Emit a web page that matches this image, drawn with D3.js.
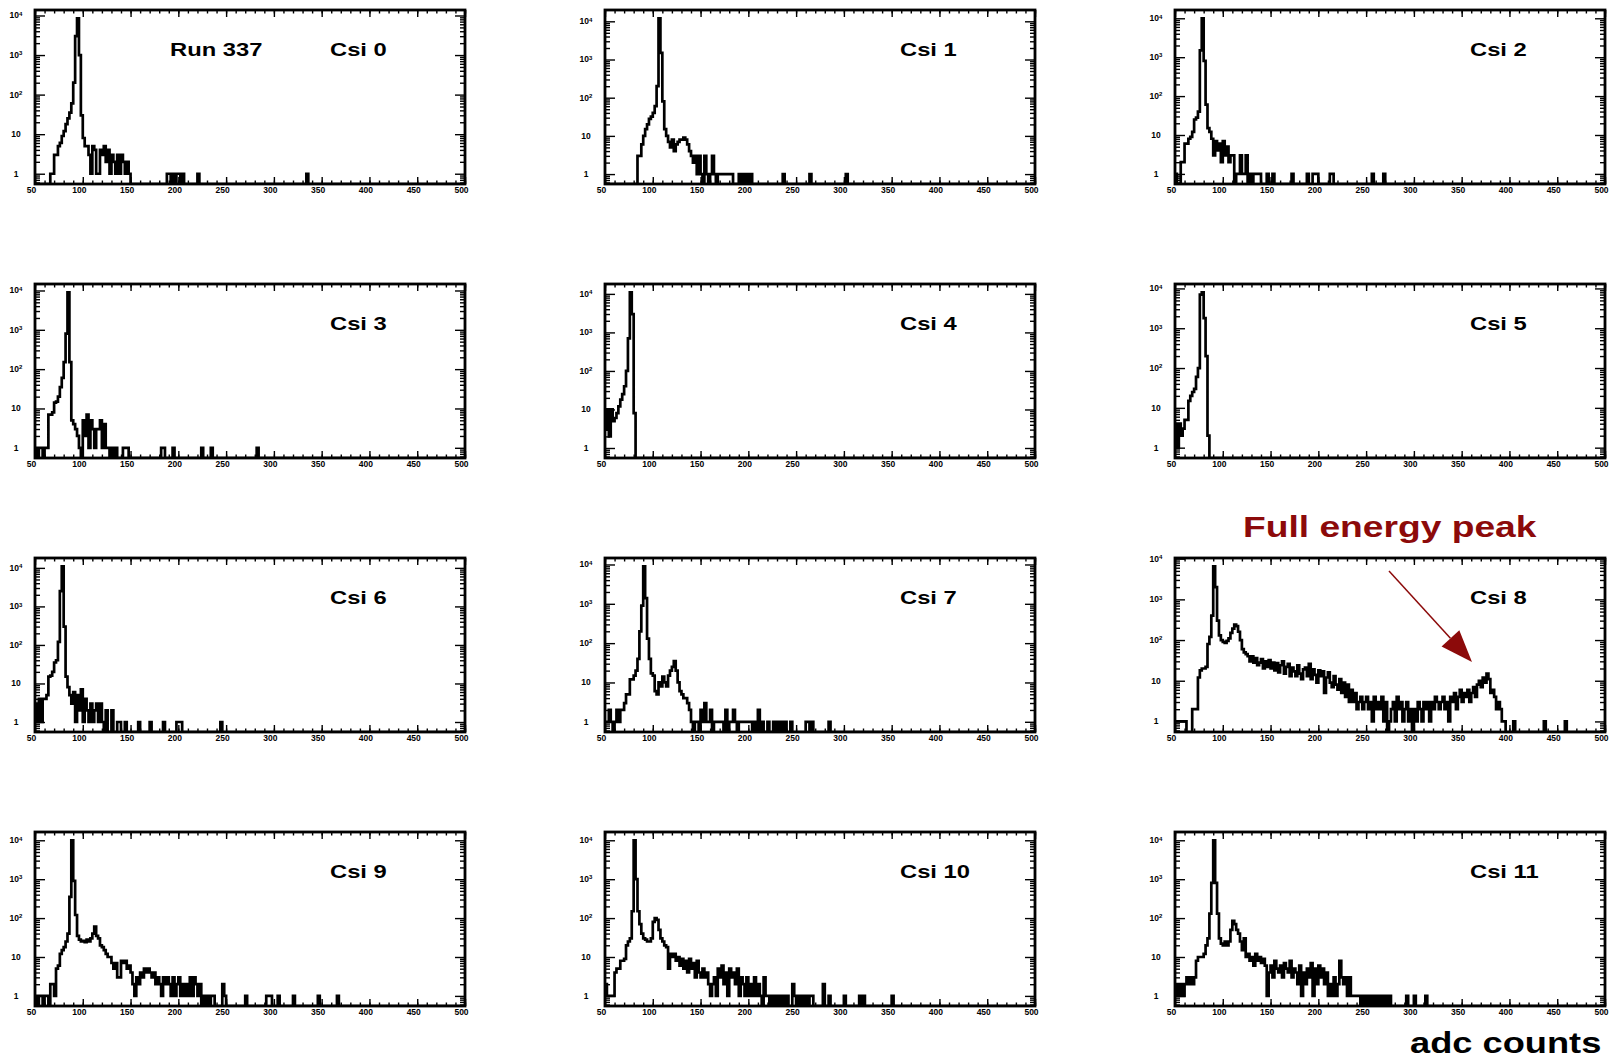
<!DOCTYPE html>
<html lang="en">
<head>
<meta charset="utf-8">
<title>Run 337 - CsI adc spectra</title>
<script src="https://cdn.jsdelivr.net/npm/d3@7"></script>
<style>
  body { margin: 0; background: #fff; }
  svg text { font-family: "Liberation Sans", Arial, Helvetica, sans-serif; }
</style>
</head>
<body>
<script>
// ---- data: [bin low edge (adc), counts] for non-empty bins, bin width 2 ----
var binWidth = 2;
var xTickValues = [50, 100, 150, 200, 250, 300, 350, 400, 450, 500];
var yTickValues = [1, 10, 100, 1000, 10000];
var detectorNames = ["Csi 0", "Csi 1", "Csi 2", "Csi 3", "Csi 4", "Csi 5",
                     "Csi 6", "Csi 7", "Csi 8", "Csi 9", "Csi 10", "Csi 11"];
var runLabel = "Run 337";

var csi0 = [[66,1],[68,1],[70,3],[72,3],[74,5],[76,6],[78,9],[80,12],[82,18],[84,25],[86,35],[88,60],
  [90,200],[92,3000],[94,8500],[96,1000],[98,30],[100,8],[102,5],[104,5],[106,3],[108,1],[110,5],[112,4],
  [114,1],[116,1],[118,4],[120,3],[122,5],[124,2],[126,4],[128,1],[130,3],[132,2],[134,1],[136,3],[138,1],
  [140,3],[142,2],[144,1],[146,2],[148,1],[188,1],[190,1],[194,1],[198,1],[200,1],[204,1],[220,1],[334,1]];

var csi1 = [[84,3],[86,3],[88,6],[90,10],[92,15],[94,20],[96,28],[98,32],[100,40],[102,60],[104,200],
  [106,12000],[108,1500],[110,80],[112,15],[114,10],[116,7],[118,5],[120,8],[122,4],[124,6],[126,7],
  [128,8],[130,8],[132,9],[134,8],[136,6],[138,4],[140,3],[142,2],[144,3],[146,1],[148,3],[150,1],
  [154,3],[156,1],[160,1],[162,3],[164,1],[168,1],[170,1],[172,1],[174,1],[176,1],[178,1],[180,1],
  [182,1],[190,1],[194,1],[198,1],[202,1],[236,1],[264,1],[302,1]];

var csi2 = [[50,1],[56,2],[58,2],[60,6],[62,6],[64,8],[66,9],[68,12],[70,25],[72,28],[74,40],[76,1500],
  [78,10000],[80,800],[82,60],[84,15],[86,12],[88,8],[90,3],[92,7],[94,4],[96,6],[98,2],[100,7],[102,3],
  [104,5],[106,2],[108,3],[110,3],[114,1],[116,1],[118,3],[120,1],[122,1],[124,3],[128,1],[132,1],
  [134,1],[136,1],[138,1],[146,1],[152,1],[172,1],[188,1],[194,1],[196,1],[198,1],[212,1],[214,1],
  [256,1],[268,1]];

var csi3 = [[50,1],[54,1],[56,1],[60,1],[62,1],[64,7],[66,7],[68,8],[70,14],[72,15],[74,20],[76,35],
  [78,60],[80,150],[82,800],[84,9000],[86,150],[88,5],[90,4],[92,3],[94,2],[96,1],[100,5],[102,2],
  [104,7],[106,1],[108,5],[110,3],[112,1],[114,3],[116,3],[118,5],[120,1],[122,4],[124,1],[126,1],
  [130,1],[134,1],[142,1],[144,1],[146,1],[182,1],[184,1],[194,1],[224,1],[234,1],[282,1]];

var csi4 = [[50,3],[52,10],[54,2],[56,10],[58,5],[60,6],[62,8],[64,12],[66,18],[68,25],[70,40],
  [72,100],[74,700],[76,11000],[78,3000],[80,8]];

var csi5 = [[50,4],[52,1],[54,4],[56,2],[58,3],[60,5],[62,5],[64,15],[66,20],[68,25],[70,30],[72,60],
  [74,100],[76,7000],[78,8000],[80,1800],[82,200],[84,2]];

var csi6 = [[50,3],[52,1],[54,4],[56,1],[58,4],[60,4],[62,5],[64,15],[66,16],[68,20],[70,35],[72,40],
  [74,120],[76,2500],[78,11000],[80,300],[82,15],[84,8],[86,5],[88,3],[90,6],[92,1],[94,5],[96,2],
  [98,7],[100,1],[102,4],[104,2],[106,1],[108,3],[110,1],[112,2],[114,3],[116,1],[118,3],[120,1],
  [124,2],[130,2],[136,1],[138,1],[144,1],[158,1],[170,1],[184,1],[198,1],[200,1],[202,1],[244,1]];

var csi7 = [[50,1],[52,1],[54,2],[56,1],[60,1],[62,2],[64,1],[66,2],[68,2],[70,3],[72,5],[74,5],
  [76,12],[78,12],[80,15],[82,20],[84,40],[86,200],[88,900],[90,9000],[92,1400],[94,130],[96,40],
  [98,17],[100,15],[102,6],[104,5],[106,10],[108,8],[110,14],[112,10],[114,8],[116,15],[118,20],
  [120,25],[122,35],[124,20],[126,10],[128,6],[130,5],[132,4],[134,4],[136,3],[138,2],[140,1],[144,1],
  [146,1],[150,2],[152,1],[154,3],[156,1],[158,1],[160,2],[164,1],[166,1],[168,1],[170,1],[172,1],
  [176,2],[180,1],[182,1],[184,2],[186,1],[190,1],[192,1],[194,1],[196,1],[198,1],[200,1],[202,1],
  [206,1],[210,2],[214,1],[220,1],[226,1],[230,1],[234,1],[238,1],[244,1],[260,1],[262,1],[266,1],
  [284,1]];

var csi8 = [[50,1],[52,1],[54,1],[56,1],[58,1],[60,1],[68,2],[70,2],[72,2],[74,12],[76,18],[78,20],
  [80,20],[82,22],[84,80],[86,120],[88,400],[90,6500],[92,2000],[94,300],[96,130],[98,100],[100,90],
  [102,85],[104,95],[106,110],[108,150],[110,190],[112,240],[114,220],[116,160],[118,100],[120,60],
  [122,50],[124,45],[126,40],[128,30],[130,40],[132,28],[134,36],[136,24],[138,28],[140,34],[142,20],
  [144,30],[146,22],[148,32],[150,20],[152,28],[154,18],[156,27],[158,16],[160,24],[162,30],[164,15],
  [166,22],[168,26],[170,13],[172,21],[174,17],[176,13],[178,24],[180,15],[182,11],[184,19],[186,21],
  [188,13],[190,26],[192,11],[194,19],[196,14],[198,9],[200,18],[202,13],[204,17],[206,5],[208,12],
  [210,16],[212,9],[214,7],[216,13],[218,8],[220,6],[222,11],[224,5],[226,9],[228,4],[230,8],[232,3],
  [234,6],[236,3],[238,5],[240,2],[242,3],[244,4],[246,2],[248,3],[250,4],[252,2],[254,3],[256,1],
  [258,4],[260,2],[262,3],[264,2],[266,4],[268,1],[270,3],[274,1],[276,2],[278,3],[280,1],[282,4],
  [284,2],[286,3],[288,1],[290,2],[292,3],[294,1],[296,2],[300,2],[302,1],[304,3],[306,2],[308,1],
  [310,3],[312,2],[314,3],[316,1],[318,3],[320,2],[322,4],[324,3],[326,2],[328,3],[330,4],[332,2],
  [334,3],[336,1],[338,4],[340,3],[342,5],[344,2],[346,4],[348,6],[350,3],[352,5],[354,4],[356,6],
  [358,3],[360,5],[362,7],[364,4],[366,8],[368,10],[370,7],[372,12],[374,9],[376,15],[378,11],[380,5],
  [382,6],[384,4],[386,2],[388,3],[390,2],[392,1],[394,1],[404,1],[436,1],[458,1]];

var csi9 = [[50,1],[54,1],[56,1],[60,1],[62,1],[66,2],[68,2],[70,1],[72,5],[74,6],[76,12],[78,15],
  [80,18],[82,25],[84,40],[86,350],[88,10000],[90,900],[92,120],[94,35],[96,28],[98,25],[100,26],
  [102,24],[104,28],[106,25],[108,30],[110,40],[112,60],[114,35],[116,30],[118,20],[120,18],[122,15],
  [124,12],[126,10],[128,10],[130,7],[132,5],[134,7],[136,3],[138,3],[140,8],[142,7],[144,8],[146,5],
  [148,6],[150,4],[152,2],[154,1],[156,3],[158,2],[160,4],[162,3],[164,5],[166,4],[168,5],[170,4],
  [172,3],[174,4],[176,2],[178,3],[180,2],[182,1],[184,3],[186,2],[188,3],[190,2],[192,1],[194,3],
  [196,1],[198,2],[200,3],[202,1],[204,2],[206,1],[208,2],[210,1],[212,3],[214,1],[216,3],[218,2],
  [220,1],[222,2],[226,1],[230,1],[234,1],[236,1],[246,2],[248,1],[270,1],[292,1],[294,1],[296,1],
  [304,1],[320,1],[346,1],[366,1]];

var csi10 = [[50,2],[52,1],[54,1],[56,1],[58,1],[60,4],[62,5],[64,5],[66,8],[68,8],[70,9],[72,20],
  [74,25],[76,30],[78,150],[80,10000],[82,1000],[84,150],[86,70],[88,40],[90,30],[92,28],[94,25],
  [96,25],[98,30],[100,80],[102,100],[104,90],[106,50],[108,30],[110,25],[112,20],[114,18],[116,5],
  [118,12],[120,10],[122,12],[124,8],[126,10],[128,6],[130,9],[132,5],[134,8],[136,4],[138,9],[140,5],
  [142,7],[144,3],[146,8],[148,4],[150,3],[152,5],[154,3],[156,4],[158,2],[160,1],[162,2],[164,3],
  [166,1],[168,5],[170,3],[172,6],[174,2],[176,4],[178,1],[180,5],[182,3],[184,4],[186,2],[188,5],
  [190,1],[192,3],[194,2],[196,1],[198,3],[200,1],[202,2],[204,1],[206,3],[208,1],[210,2],[212,1],
  [216,3],[218,1],[220,1],[224,1],[228,1],[232,1],[236,1],[240,1],[246,2],[248,1],[252,1],[256,1],
  [260,1],[264,1],[266,1],[278,2],[284,1],[300,1],[316,1],[320,1],[350,1]];

var csi11 = [[50,1],[52,2],[54,1],[56,2],[58,1],[60,2],[62,3],[64,2],[66,3],[68,2],[70,3],[72,8],
  [74,10],[76,10],[78,10],[80,12],[82,20],[84,30],[86,130],[88,800],[90,10000],[92,800],[94,130],
  [96,30],[98,22],[100,20],[102,25],[104,20],[106,25],[108,50],[110,85],[112,70],[114,50],[116,40],
  [118,25],[120,15],[122,30],[124,10],[126,12],[128,8],[130,10],[132,6],[134,12],[136,8],[138,10],
  [140,7],[142,9],[144,6],[146,1],[148,4],[150,6],[152,3],[154,8],[156,5],[158,4],[160,6],[162,3],
  [164,7],[166,5],[168,4],[170,8],[172,3],[174,5],[176,4],[178,2],[180,6],[182,1],[184,4],[186,2],
  [188,5],[190,3],[192,7],[194,1],[196,5],[198,2],[200,6],[202,3],[204,5],[206,2],[208,4],[210,1],
  [212,2],[214,1],[216,3],[218,1],[220,2],[222,8],[224,3],[226,2],[228,3],[230,1],[232,3],[234,1],
  [236,1],[238,1],[240,1],[242,1],[246,1],[250,1],[254,1],[258,1],[262,1],[266,1],[270,1],[274,1],
  [292,1],[300,1],[312,1]];

var spectra = [csi0, csi1, csi2, csi3, csi4, csi5, csi6, csi7, csi8, csi9, csi10, csi11];

// ---- layout ----
var W = 1611, H = 1058;
var colLeft = [35, 605, 1175];
var rowTop = [10, 284, 558, 832];
var pw = 430, ph = 174;
var xMin = 50, xMax = 500;
var yMin = 0.55;
var stretch = 1.25;   // text in the original is drawn a bit wide

var svg = d3.select("body").append("svg")
            .attr("width", W)
            .attr("height", H);

svg.append("rect").attr("width", W).attr("height", H).attr("fill", "white");

var defs = svg.append("defs");
defs.append("clipPath").attr("id", "frameClip")
    .append("rect").attr("x", 0).attr("y", -2).attr("width", pw).attr("height", ph + 2);

function minorLogTicks(top) {
  var out = [];
  for (var p = -1; p <= 5; p++) {
    for (var m = 2; m <= 9; m++) {
      var v = m * Math.pow(10, p);
      if (v > yMin && v < top) out.push(v);
    }
  }
  return out;
}

spectra.forEach(function (bins, k) {
  var col = k % 3, row = Math.floor(k / 3);
  var g = svg.append("g")
             .attr("transform", "translate(" + colLeft[col] + "," + rowTop[row] + ")");

  var peak = d3.max(bins, function (d) { return d[1]; });
  var lp = Math.log10(peak), lmin = Math.log10(yMin);
  var yTop = Math.pow(10, lp + 0.05 * (lp - lmin));

  var x = d3.scaleLinear().domain([xMin, xMax]).range([0, pw]);
  var y = d3.scaleLog().domain([yMin, yTop]).range([ph, 0]);

  // fill every bin of the 50-500 range, empty bins sit on the axis
  var lookup = new Map(bins.map(function (d) { return [d[0], d[1]]; }));
  var steps = d3.range(xMin, xMax, binWidth).map(function (e) {
    return [e, lookup.get(e) || 0];
  });
  steps.push([xMax, steps[steps.length - 1][1]]);

  var line = d3.line()
               .x(function (d) { return x(d[0]); })
               .y(function (d) { return d[1] > 0 ? y(d[1]) : ph; })
               .curve(d3.curveStepAfter);

  g.append("path")
   .datum(steps)
   .attr("clip-path", "url(#frameClip)")
   .attr("d", line)
   .attr("fill", "none")
   .attr("stroke", "black")
   .attr("stroke-width", 2.7)
   .attr("stroke-linejoin", "miter");

  // x axis: labelled ticks at the bottom, ticks also on top, all pointing inward
  var bottomMajor = g.append("g")
      .attr("transform", "translate(0," + ph + ")")
      .call(d3.axisBottom(x).tickValues(xTickValues).tickSize(-7).tickPadding(3)
              .tickFormat(d3.format("d")));
  bottomMajor.selectAll("text")
      .attr("dx", "-4")
      .attr("font-size", "8.5px")
      .attr("font-weight", "bold")
      .attr("fill", "black");

  g.append("g")
   .attr("transform", "translate(0," + ph + ")")
   .call(d3.axisBottom(x).tickValues(d3.range(xMin, xMax + 1, 10)).tickSize(-3.5).tickFormat(""));
  g.append("g")
   .call(d3.axisTop(x).tickValues(xTickValues).tickSize(-7).tickFormat(""));
  g.append("g")
   .call(d3.axisTop(x).tickValues(d3.range(xMin, xMax + 1, 10)).tickSize(-3.5).tickFormat(""));

  // y axis: decades labelled on the left, minor 2..9 ticks on both sides
  var decades = yTickValues.filter(function (v) { return v < yTop; });
  g.append("g")
   .call(d3.axisLeft(y).tickValues(decades).tickSize(-10).tickFormat(""));
  g.append("g")
   .call(d3.axisLeft(y).tickValues(minorLogTicks(yTop)).tickSize(-5).tickFormat(""));
  g.append("g")
   .attr("transform", "translate(" + pw + ",0)")
   .call(d3.axisRight(y).tickValues(decades).tickSize(-10).tickFormat(""));
  g.append("g")
   .attr("transform", "translate(" + pw + ",0)")
   .call(d3.axisRight(y).tickValues(minorLogTicks(yTop)).tickSize(-5).tickFormat(""));

  var labels = g.append("g")
      .selectAll("text")
      .data(decades)
      .enter()
      .append("text")
      .attr("x", -19)
      .attr("y", function (d) { return y(d); })
      .attr("dy", "0.35em")
      .attr("text-anchor", "middle")
      .attr("font-size", "8.5px")
      .attr("font-weight", "bold")
      .text(function (d) { return d < 100 ? String(d) : "10"; });
  labels.filter(function (d) { return d >= 100; })
      .append("tspan")
      .attr("dy", "-0.45em")
      .attr("font-size", "6px")
      .text(function (d) { return String(Math.round(Math.log10(d))); });

  g.selectAll(".domain").remove();
  g.selectAll(".tick line").attr("stroke", "black").attr("stroke-width", 1.4);

  // frame
  g.append("rect")
   .attr("width", pw)
   .attr("height", ph)
   .attr("fill", "none")
   .attr("stroke", "black")
   .attr("stroke-width", 2.8);

  g.append("text")
   .attr("transform", "translate(295,46) scale(" + stretch + ",1)")
   .attr("font-size", "19px")
   .attr("font-weight", "bold")
   .text(detectorNames[k]);

  if (k === 0) {
    g.append("text")
     .attr("transform", "translate(135,46) scale(" + stretch + ",1)")
     .attr("font-size", "19px")
     .attr("font-weight", "bold")
     .text(runLabel);
  }
});

// annotation on Csi 8
var darkRed = "#8c0a0a";
svg.append("text")
   .attr("transform", "translate(1243,537) scale(1.24,1)")
   .attr("font-size", "30px")
   .attr("font-weight", "bold")
   .attr("fill", darkRed)
   .text("Full energy peak");

var a0 = [1389, 571], a1 = [1472, 662];
var ang = Math.atan2(a1[1] - a0[1], a1[0] - a0[0]);
var headLen = 32, headHalf = 12;
var base = [a1[0] - headLen * Math.cos(ang), a1[1] - headLen * Math.sin(ang)];
svg.append("line")
   .attr("x1", a0[0]).attr("y1", a0[1])
   .attr("x2", base[0]).attr("y2", base[1])
   .attr("stroke", darkRed)
   .attr("stroke-width", 1.5);
svg.append("path")
   .attr("d", "M" + a1[0] + "," + a1[1] +
              "L" + (base[0] - headHalf * Math.sin(ang)) + "," + (base[1] + headHalf * Math.cos(ang)) +
              "L" + (base[0] + headHalf * Math.sin(ang)) + "," + (base[1] - headHalf * Math.cos(ang)) + "Z")
   .attr("fill", darkRed);

// axis title
svg.append("text")
   .attr("transform", "translate(1410,1053) scale(1.25,1)")
   .attr("font-size", "29px")
   .attr("font-weight", "bold")
   .text("adc counts");
</script>
</body>
</html>
